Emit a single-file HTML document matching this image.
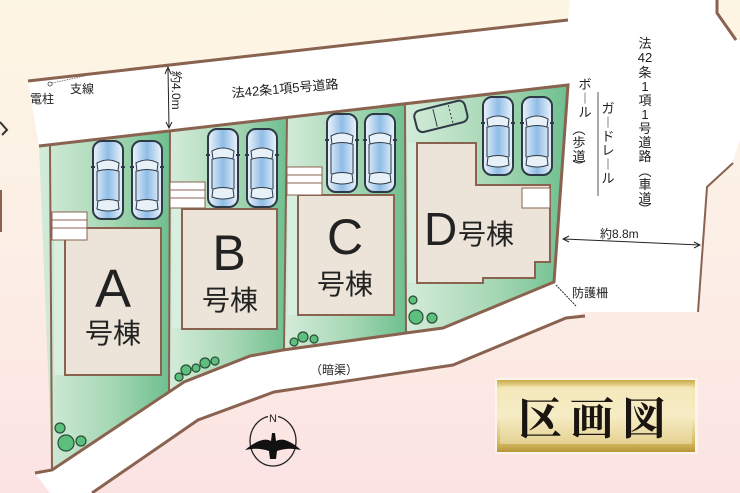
<!DOCTYPE html>
<html><head><meta charset="utf-8"><style>
html,body{margin:0;padding:0;width:740px;height:493px;overflow:hidden}
svg{display:block}
text{font-family:"Liberation Sans","Noto Sans CJK JP",sans-serif;fill:#222}
</style></head><body>
<svg width="740" height="493" viewBox="0 0 740 493" xmlns="http://www.w3.org/2000/svg">
<defs>
<linearGradient id="bg" x1="0" y1="0" x2="0" y2="1">
<stop offset="0" stop-color="#fdf5e3"/><stop offset="0.5" stop-color="#fcefe6"/><stop offset="1" stop-color="#fbe3e3"/></linearGradient>
<linearGradient id="gr" x1="0" y1="0" x2="1" y2="0">
<stop offset="0" stop-color="#d4ecda"/><stop offset="0.55" stop-color="#a6d7b4"/><stop offset="1" stop-color="#6fbf90"/></linearGradient>
<linearGradient id="gold" x1="0" y1="0" x2="0" y2="1">
<stop offset="0" stop-color="#c9ab4a"/><stop offset="0.12" stop-color="#f3e6b0"/><stop offset="0.5" stop-color="#f6ecc4"/><stop offset="0.85" stop-color="#d8be6a"/><stop offset="1" stop-color="#b89738"/></linearGradient>
<linearGradient id="cw" x1="0" y1="0" x2="1" y2="0">
<stop offset="0" stop-color="#eef4fb"/><stop offset="0.5" stop-color="#8fbde6"/><stop offset="1" stop-color="#eef4fb"/></linearGradient>
<g id="car">
<rect x="0" y="0" width="30" height="78" rx="9" fill="url(#cw)" stroke="#2e3a46" stroke-width="2"/>
<path d="M4 22 Q15 16 26 22 L25 30 Q15 27 5 30 Z" fill="#e8f0f8" stroke="#2e3a46" stroke-width="1"/>
<path d="M5 60 Q15 57 25 60 L26 68 Q15 72 4 68 Z" fill="#e8f0f8" stroke="#2e3a46" stroke-width="1"/>
<path d="M4 30 L4 60 M26 30 L26 60" stroke="#2e3a46" stroke-width="1"/>
<path d="M-2 26 L2 26 M28 26 L32 26" stroke="#2e3a46" stroke-width="2"/>
</g>
</defs>
<rect width="740" height="493" fill="url(#bg)"/>
<!-- top road + right road -->
<polygon points="28,81 568,20 570,0 717,0 717,13 736,40 740,40 740,140 732,163 707,187 698,312 585,312 566,318 554,282 568,85 39,146" fill="#fff"/>
<polyline points="28,81 568,20" fill="none" stroke="#8a6350" stroke-width="3"/>
<polyline points="717,0 717,13 736,40" fill="none" stroke="#8a6350" stroke-width="3"/>
<polyline points="733,163 707,187 698,312" fill="none" stroke="#8a6350" stroke-width="2"/>
<!-- lower road -->
<polygon points="35,473 52,470 184,382 250,356 283,350 406,333 443,328 554,282 585,312 566,318 453,365 274,392 198,420 92,493 50,493" fill="#fff"/>
<polyline points="585,316 566,318 453,365 274,392 198,420 92,493" fill="none" stroke="#8a6350" stroke-width="3"/>
<!-- lots -->
<polygon points="39,146 170,130 169,392 52,470" fill="url(#gr)"/>
<polygon points="170,130 287,117 284,350 250,356 184,382 169,392" fill="url(#gr)"/>
<polygon points="287,117 405,104 406,333 284,350" fill="url(#gr)"/>
<polygon points="405,104 568,85 554,282 443,328 406,333" fill="url(#gr)"/>
<polyline points="39,146 568,85 554,282 443,328 406,333 283,350 250,356 184,382 52,470 35,473" fill="none" stroke="#8a6350" stroke-width="3"/>
<polyline points="50,146 52,470" fill="none" stroke="#8a6350" stroke-width="2"/>
<polyline points="170,130 169,392" fill="none" stroke="#8a6350" stroke-width="2"/>
<polyline points="287,117 284,350" fill="none" stroke="#8a6350" stroke-width="2"/>
<polyline points="405,104 406,333" fill="none" stroke="#8a6350" stroke-width="2"/>
<!-- inner lighter stripes -->
<rect x="54" y="240" width="10" height="135" fill="#d8efdf"/>
<rect x="172" y="208" width="9" height="120" fill="#d8efdf"/>
<rect x="288" y="195" width="9" height="120" fill="#d8efdf"/>
<rect x="408" y="143" width="8" height="140" fill="#d8efdf"/>
<!-- houses -->
<g fill="#ece4d8" stroke="#8a6350" stroke-width="2">
<rect x="65" y="228" width="96" height="147"/>
<rect x="182" y="209" width="95" height="120"/>
<rect x="298" y="195" width="96" height="120"/>
<polygon points="417,143 476,143 476,185 550,185 550,262 535,262 535,278 483,278 483,283 417,283"/>
</g>
<!-- steps -->
<g fill="#fff" stroke="#8a6350" stroke-width="1">
<rect x="52" y="212" width="35" height="28"/><line x1="52" y1="220" x2="87" y2="220"/><line x1="52" y1="228" x2="87" y2="228"/>
<rect x="170" y="182" width="35" height="26"/><line x1="170" y1="190" x2="205" y2="190"/><line x1="170" y1="198" x2="205" y2="198"/>
<rect x="287" y="167" width="35" height="28"/><line x1="287" y1="175" x2="322" y2="175"/><line x1="287" y1="183" x2="322" y2="183"/>
<rect x="522" y="188" width="28" height="20"/>
</g>
<!-- cars -->
<use href="#car" x="93" y="141"/><use href="#car" x="132" y="141"/>
<use href="#car" x="208" y="129"/><use href="#car" x="247" y="129"/>
<use href="#car" x="327" y="114"/><use href="#car" x="365" y="114"/>
<use href="#car" x="483" y="97"/><use href="#car" x="522" y="97"/>
<g transform="translate(413,112) rotate(-14)"><rect x="0" y="0" width="52" height="22" rx="6" fill="none" stroke="#2e3a46" stroke-width="2"/><line x1="20" y1="2" x2="20" y2="20" stroke="#2e3a46"/><line x1="36" y1="2" x2="36" y2="20" stroke="#2e3a46" stroke-dasharray="2 2"/></g>
<!-- trees -->
<g fill="#5cbf7e" stroke="#2b4d35" stroke-width="1.2">
<circle cx="60" cy="428" r="5"/><circle cx="66" cy="443" r="8"/><circle cx="81" cy="441" r="5"/>
<circle cx="179" cy="377" r="4"/><circle cx="186" cy="370" r="5"/><circle cx="196" cy="368" r="4"/><circle cx="205" cy="363" r="5"/><circle cx="215" cy="361" r="4"/>
<circle cx="294" cy="342" r="4"/><circle cx="303" cy="337" r="5"/><circle cx="314" cy="339" r="4"/>
<circle cx="413" cy="300" r="4"/><circle cx="416" cy="317" r="7"/><circle cx="432" cy="318" r="5"/>
</g>
<!-- lot labels -->
<text x="113" y="307" font-size="54" text-anchor="middle" fill="#222">A</text>
<text x="113" y="343" font-size="28" text-anchor="middle">号棟</text>
<text x="229" y="270" font-size="50" text-anchor="middle">B</text>
<text x="230" y="310" font-size="28" text-anchor="middle">号棟</text>
<text x="345" y="254" font-size="50" text-anchor="middle">C</text>
<text x="345" y="294" font-size="28" text-anchor="middle">号棟</text>
<text x="424" y="245" font-size="46">D</text>
<text x="458" y="244" font-size="28">号棟</text>
<!-- road labels -->
<circle cx="50" cy="84" r="2" fill="#fff" stroke="#444" stroke-width="0.8"/>
<line x1="52" y1="83" x2="85" y2="76" stroke="#666" stroke-width="0.8" stroke-dasharray="1.5 1"/>
<text x="30" y="103" font-size="12">電柱</text>
<text x="70" y="93" font-size="12">支線</text>
<text x="285" y="93" font-size="13" text-anchor="middle" transform="rotate(-5 285 88)">法42条1項5号道路</text>
<line x1="168" y1="69" x2="169" y2="127" stroke="#222" stroke-width="1"/>
<path d="M165 74 L168 67 L171 74 M166 122 L169 128 L172 122" fill="none" stroke="#222" stroke-width="1"/>
<text x="172" y="71" font-size="12" transform="rotate(90 172 71)">約4.0m</text>
<g font-size="13">
<text x="645" y="48" text-anchor="middle">法</text>
<text x="645" y="62" text-anchor="middle">42</text>
<text x="645" y="77" text-anchor="middle">条</text>
<text x="645" y="91" text-anchor="middle">1</text>
<text x="645" y="105" text-anchor="middle">項</text>
<text x="645" y="119" text-anchor="middle">1</text>
<text x="645" y="133" text-anchor="middle">号</text>
<text x="645" y="147" text-anchor="middle">道</text>
<text x="645" y="161" text-anchor="middle">路</text>
<text x="645" y="176" text-anchor="middle">︵</text>
<text x="645" y="189" text-anchor="middle">車</text>
<text x="645" y="203" text-anchor="middle">道</text>
<text x="645" y="214" text-anchor="middle">︶</text>
<text x="585" y="89" text-anchor="middle">ボ</text>
<text x="585" y="103" text-anchor="middle">︱</text>
<text x="585" y="117" text-anchor="middle">ル</text>
<text x="579" y="134" text-anchor="middle">︵</text>
<text x="579" y="147" text-anchor="middle">歩</text>
<text x="579" y="161" text-anchor="middle">道</text>
<text x="579" y="171" text-anchor="middle">︶</text>
<text x="608" y="113" text-anchor="middle">ガ</text>
<text x="608" y="127" text-anchor="middle">︱</text>
<text x="608" y="141" text-anchor="middle">ド</text>
<text x="608" y="155" text-anchor="middle">レ</text>
<text x="608" y="169" text-anchor="middle">︱</text>
<text x="608" y="183" text-anchor="middle">ル</text>
</g>
<line x1="598" y1="92" x2="598" y2="196" stroke="#555" stroke-width="1"/>
<line x1="564" y1="239" x2="700" y2="245" stroke="#222" stroke-width="1"/>
<path d="M569 236 L563 239 L569 242 M694 242 L700 245 L694 248" fill="none" stroke="#222"/>
<text x="600" y="238" font-size="12">約8.8m</text>
<line x1="556" y1="285" x2="576" y2="306" stroke="#222" stroke-width="1" stroke-dasharray="2 1"/>
<text x="572" y="297" font-size="12">防護柵</text>
<text x="310" y="374" font-size="12">（暗渠）</text>
<!-- compass -->
<ellipse cx="273" cy="441" rx="23" ry="25" fill="none" stroke="#222" stroke-width="1.3"/>
<rect x="268" y="412" width="10" height="11" fill="#fbe8e6"/>
<text x="273" y="422" font-size="11" text-anchor="middle">N</text>
<path d="M273 424 L273 460 M245 450 Q262 436 271 441 L272 433 L275 433 L276 441 Q285 436 301 450 Q288 447 277 451 L276 459 L270 459 L269 451 Q258 447 245 450 Z" fill="#111"/>
<!-- title box -->
<rect x="495" y="378" width="203" height="76" fill="#fdf8ec" opacity="0.8"/>
<rect x="497" y="380" width="198" height="72" fill="url(#gold)"/>
<rect x="500" y="386" width="192" height="58" fill="#f6ecc6" opacity="0.5"/>
<text x="596" y="434" font-size="44" text-anchor="middle" font-weight="bold" letter-spacing="8" style="fill:#1a1510;font-family:'Noto Serif CJK SC','Liberation Serif',serif">区画図</text>
<!-- left edge marks -->
<path d="M0 122 L7 130 L2 135" fill="none" stroke="#333" stroke-width="2"/>
<line x1="1" y1="190" x2="1" y2="232" stroke="#8a6350" stroke-width="2"/>
</svg>
</body></html>
